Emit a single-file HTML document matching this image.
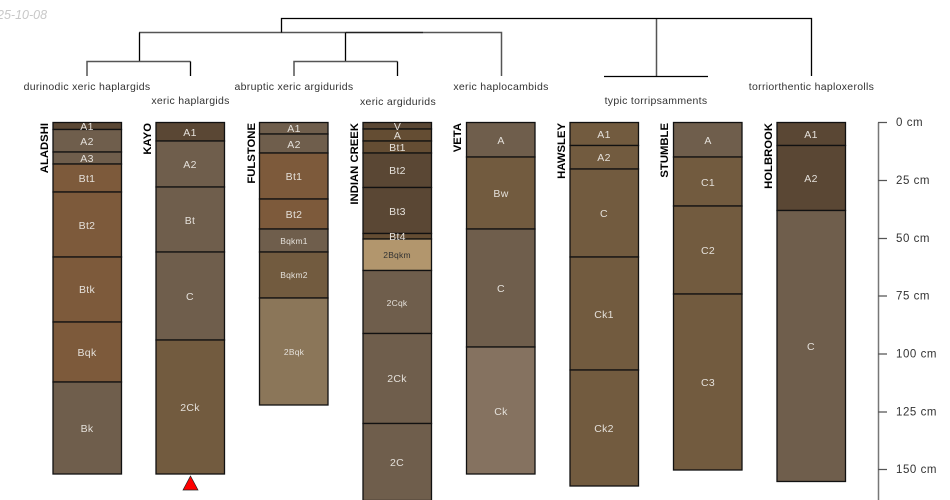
<!DOCTYPE html>
<html><head><meta charset="utf-8"><style>
html,body{margin:0;padding:0;background:#fff}
svg{display:block}
text{font-family:"Liberation Sans",sans-serif}
.h{font-size:10.5px;fill:#e4e0da;text-anchor:middle;letter-spacing:.3px}
.s{font-size:8.5px;fill:#e4e0da;text-anchor:middle;letter-spacing:.2px}
.n{font-size:11.3px;font-weight:bold;fill:#000}
.t{font-size:10.5px;fill:#333;text-anchor:middle;letter-spacing:.3px}
.d{font-size:11.5px;fill:#333;letter-spacing:.55px}
.l{stroke:#000;stroke-width:1.3;fill:none}
.g{stroke:#555;stroke-width:1.5;fill:none}
.r{stroke:#111;stroke-width:1.3}
</style></head><body>
<svg width="950" height="500" viewBox="0 0 950 500" xmlns="http://www.w3.org/2000/svg">
<text x="-3" y="19" style="font-size:12.5px;font-style:italic;fill:#c8c8c8">25-10-08</text>

<path class="g" d="M656.500 18.500V76"/>
<path class="g" d="M139 32.500H501.500V76"/>
<path class="l" d="M281.500 32.500V18.500H811.500V76"/>
<path class="l" d="M139.500 32.500V61.500"/>
<path class="l" d="M346 32.500H423" style="stroke:#222"/>
<path class="l" d="M345.500 32.500V61.500"/>
<path class="g" d="M87 76V61.500H190.500"/>
<path class="l" d="M190.500 61.500V76"/>
<path class="g" d="M294 76V61.500H397.500"/>
<path class="l" d="M397.500 61.500V76"/>
<path class="l" d="M604 76.500H708"/>

<text class="t" x="87" y="90">durinodic xeric haplargids</text>
<text class="t" x="190.500" y="104">xeric haplargids</text>
<text class="t" x="294" y="90">abruptic xeric argidurids</text>
<text class="t" x="398" y="105">xeric argidurids</text>
<text class="t" x="501" y="90">xeric haplocambids</text>
<text class="t" x="656" y="104">typic torripsamments</text>
<text class="t" x="811.500" y="90">torriorthentic haploxerolls</text>

<!-- ALADSHI -->
<rect class="r" x="53" y="122.500" width="68.500" height="7" fill="#5a4734"/>
<rect class="r" x="53" y="129.500" width="68.500" height="22.500" fill="#6f5e4c"/>
<rect class="r" x="53" y="152" width="68.500" height="12" fill="#6f5e4c"/>
<rect class="r" x="53" y="164" width="68.500" height="28" fill="#7d5a3b"/>
<rect class="r" x="53" y="192" width="68.500" height="65" fill="#7d5a3b"/>
<rect class="r" x="53" y="257" width="68.500" height="65" fill="#7d5a3b"/>
<rect class="r" x="53" y="322" width="68.500" height="60" fill="#7d5a3b"/>
<rect class="r" x="53" y="382" width="68.500" height="92" fill="#6f5e4c"/>
<text class="h" x="87" y="130">A1</text><text class="h" x="87" y="145">A2</text><text class="h" x="87" y="162">A3</text><text class="h" x="87" y="182">Bt1</text><text class="h" x="87" y="229">Bt2</text><text class="h" x="87" y="293">Btk</text><text class="h" x="87" y="356">Bqk</text><text class="h" x="87" y="432">Bk</text>

<!-- KAYO -->
<rect class="r" x="156" y="122.500" width="68.500" height="18.500" fill="#5a4734"/>
<rect class="r" x="156" y="141" width="68.500" height="46" fill="#6f5e4c"/>
<rect class="r" x="156" y="187" width="68.500" height="65" fill="#6f5e4c"/>
<rect class="r" x="156" y="252" width="68.500" height="88" fill="#6f5e4c"/>
<rect class="r" x="156" y="340" width="68.500" height="134" fill="#725b3f"/>
<text class="h" x="190" y="136">A1</text><text class="h" x="190" y="168">A2</text><text class="h" x="190" y="224">Bt</text><text class="h" x="190" y="300">C</text><text class="h" x="190" y="411">2Ck</text>
<polygon points="190.500,476 198,490 183,490" fill="#f00" stroke="#222" stroke-width=".7"/>

<!-- FULSTONE -->
<rect class="r" x="259.500" y="122.500" width="68.500" height="11.500" fill="#6f5e4c"/>
<rect class="r" x="259.500" y="134" width="68.500" height="19" fill="#6f5e4c"/>
<rect class="r" x="259.500" y="153" width="68.500" height="46" fill="#7d5a3b"/>
<rect class="r" x="259.500" y="199" width="68.500" height="30" fill="#7d5a3b"/>
<rect class="r" x="259.500" y="229" width="68.500" height="23" fill="#6f5e4c"/>
<rect class="r" x="259.500" y="252" width="68.500" height="46" fill="#725b3f"/>
<rect class="r" x="259.500" y="298" width="68.500" height="107" fill="#8b7659"/>
<text class="h" x="294" y="132">A1</text><text class="h" x="294" y="148">A2</text><text class="h" x="294" y="180">Bt1</text><text class="h" x="294" y="218">Bt2</text><text class="s" x="294" y="244">Bqkm1</text><text class="s" x="294" y="278">Bqkm2</text><text class="s" x="294" y="355">2Bqk</text>

<!-- INDIAN CREEK -->
<rect class="r" x="363" y="122.500" width="68.500" height="6.500" fill="#5a4734"/>
<rect class="r" x="363" y="129" width="68.500" height="12" fill="#644d33"/>
<rect class="r" x="363" y="141" width="68.500" height="12" fill="#644d33"/>
<rect class="r" x="363" y="153" width="68.500" height="34.500" fill="#5a4734"/>
<rect class="r" x="363" y="187.500" width="68.500" height="46" fill="#5a4734"/>
<rect class="r" x="363" y="233.500" width="68.500" height="5.500" fill="#644d33"/>
<rect class="r" x="363" y="239" width="68.500" height="31.500" fill="#b2966d"/>
<rect class="r" x="363" y="270.500" width="68.500" height="63" fill="#6f5e4c"/>
<rect class="r" x="363" y="333.500" width="68.500" height="90" fill="#6f5e4c"/>
<rect class="r" x="363" y="423.500" width="68.500" height="77" fill="#6f5e4c"/>
<text class="h" x="397.500" y="130">V</text><text class="h" x="397.500" y="139">A</text><text class="h" x="397.500" y="151">Bt1</text><text class="h" x="397.500" y="174">Bt2</text><text class="h" x="397.500" y="215">Bt3</text><text class="h" x="397.500" y="240">Bt4</text><text class="s" x="397" y="258" style="fill:#333">2Bqkm</text><text class="s" x="397" y="306">2Cqk</text><text class="h" x="397" y="382">2Ck</text><text class="h" x="397" y="466">2C</text>

<!-- VETA -->
<rect class="r" x="466.500" y="122.500" width="68.500" height="34.500" fill="#6f5e4c"/>
<rect class="r" x="466.500" y="157" width="68.500" height="72" fill="#725b3f"/>
<rect class="r" x="466.500" y="229" width="68.500" height="118" fill="#6f5e4c"/>
<rect class="r" x="466.500" y="347" width="68.500" height="127" fill="#857260"/>
<text class="h" x="501" y="144">A</text><text class="h" x="501" y="197">Bw</text><text class="h" x="501" y="292">C</text><text class="h" x="501" y="415">Ck</text>

<!-- HAWSLEY -->
<rect class="r" x="570" y="122.500" width="68.500" height="23" fill="#725b3f"/>
<rect class="r" x="570" y="145.500" width="68.500" height="23.500" fill="#725b3f"/>
<rect class="r" x="570" y="169" width="68.500" height="88" fill="#725b3f"/>
<rect class="r" x="570" y="257" width="68.500" height="113" fill="#725b3f"/>
<rect class="r" x="570" y="370" width="68.500" height="116" fill="#725b3f"/>
<text class="h" x="604" y="138">A1</text><text class="h" x="604" y="161">A2</text><text class="h" x="604" y="217">C</text><text class="h" x="604" y="318">Ck1</text><text class="h" x="604" y="432">Ck2</text>

<!-- STUMBLE -->
<rect class="r" x="673.500" y="122.500" width="68.500" height="34.500" fill="#6f5e4c"/>
<rect class="r" x="673.500" y="157" width="68.500" height="49" fill="#725b3f"/>
<rect class="r" x="673.500" y="206" width="68.500" height="88" fill="#725b3f"/>
<rect class="r" x="673.500" y="294" width="68.500" height="176" fill="#725b3f"/>
<text class="h" x="708" y="144">A</text><text class="h" x="708" y="186">C1</text><text class="h" x="708" y="254">C2</text><text class="h" x="708" y="386">C3</text>

<!-- HOLBROOK -->
<rect class="r" x="777" y="122.500" width="68.500" height="23" fill="#5a4734"/>
<rect class="r" x="777" y="145.500" width="68.500" height="65" fill="#5a4734"/>
<rect class="r" x="777" y="210.500" width="68.500" height="271" fill="#6f5e4c"/>
<text class="h" x="811" y="138">A1</text><text class="h" x="811" y="182">A2</text><text class="h" x="811" y="350">C</text>

<!-- names -->
<text class="n" transform="translate(48,123) rotate(-90)" text-anchor="end">ALADSHI</text>
<text class="n" transform="translate(151,123) rotate(-90)" text-anchor="end">KAYO</text>
<text class="n" transform="translate(255,123) rotate(-90)" text-anchor="end">FULSTONE</text>
<text class="n" transform="translate(358,123) rotate(-90)" text-anchor="end">INDIAN CREEK</text>
<text class="n" transform="translate(461,123) rotate(-90)" text-anchor="end">VETA</text>
<text class="n" transform="translate(565,123) rotate(-90)" text-anchor="end">HAWSLEY</text>
<text class="n" transform="translate(668,123) rotate(-90)" text-anchor="end">STUMBLE</text>
<text class="n" transform="translate(772,123) rotate(-90)" text-anchor="end">HOLBROOK</text>

<!-- depth axis -->
<path d="M878.500 122.500V500" stroke="#777" stroke-width="1.500" fill="none"/>
<path d="M878 122.500H887M878 180.500H887M878 238.500H887M878 296H887M878 354H887M878 412H887M878 469.500H887" stroke="#555" stroke-width="1.200" fill="none"/>
<text class="d" x="896" y="126">0 cm</text>
<text class="d" x="896" y="184">25 cm</text>
<text class="d" x="896" y="242">50 cm</text>
<text class="d" x="896" y="299.500">75 cm</text>
<text class="d" x="896" y="357.500">100 cm</text>
<text class="d" x="896" y="415.500">125 cm</text>
<text class="d" x="896" y="473">150 cm</text>
</svg>
</body></html>
